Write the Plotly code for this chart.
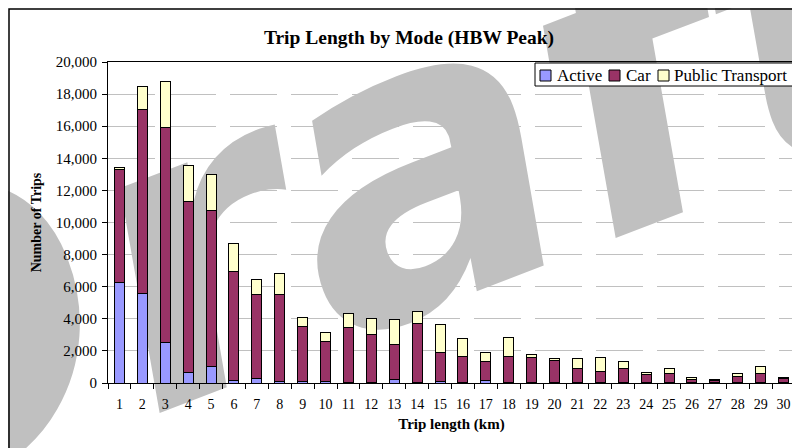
import plotly.graph_objects as go

# ---- data ----
categories = [str(i) for i in range(1, 31)]
active = [6250, 5570, 2550, 650, 1050, 150, 260, 100, 90, 90, 40, 20, 190, 30, 80,
          20, 160, 20, 10, 10, 10, 10, 10, 10, 10, 5, 5, 5, 5, 5]
car = [7070, 11440, 13380, 10660, 9720, 6800, 5280, 5440, 3460, 2520, 3420, 2990, 2180, 3680, 1850,
       1640, 1190, 1620, 1550, 1400, 880, 730, 900, 510, 570, 205, 165, 405, 595, 305]
public_transport = [120, 1490, 2870, 2240, 2230, 1760, 930, 1290, 560, 560, 880, 990, 1570, 770, 1720,
                    1100, 560, 1180, 200, 130, 620, 880, 420, 120, 330, 120, 60, 190, 440, 40]
y_ticks = list(range(0, 20001, 2000))
series_names = ["Active", "Car", "Public Transport"]
colors = ["#9999FF", "#993366", "#FFFFCC"]

# page is offset by the body margin (8px)
OFF = 8
W, H = 800 - OFF, 448 - OFF
PL, PR, PT, PB = 108, 795, 62, 383   # plot area in page pixels
L, R, T, B = PL - OFF, 800 - PR, PT - OFF, 448 - PB
PW, PH = PR - PL, PB - PT


def px(X):
    return (X - PL) / PW


def py(Y):
    return (PB - Y) / PH


FONT = "Liberation Serif"

fig = go.Figure()
for name, vals, col in zip(series_names, [active, car, public_transport], colors):
    fig.add_trace(go.Bar(x=categories, y=vals, name=name, marker_color=col,
                         marker_line=dict(color="black", width=1), showlegend=False))

fig.update_layout(
    width=W, height=H, barmode="stack", bargap=0.56,
    margin=dict(l=L, r=R, t=T, b=B, autoexpand=False),
    paper_bgcolor="white", plot_bgcolor="rgba(0,0,0,0)",
    font=dict(family=FONT, color="black", size=14),
    title=dict(text="<b>Trip Length by Mode (HBW Peak)</b>", x=(409 - OFF) / W, xanchor="center",
               y=1 - (37 - OFF) / H, yanchor="middle", font=dict(size=19.5, family=FONT)),
    xaxis=dict(type="category", showline=True, linecolor="black", linewidth=1, mirror=True,
               ticks="outside", ticklen=5, tickcolor="black", tickson="boundaries", tickangle=0,
               showgrid=False, tickfont=dict(size=14, family=FONT), ticklabelstandoff=8,
               title=dict(text="<b>Trip length (km)</b>", font=dict(size=15, family=FONT), standoff=7)),
    yaxis=dict(range=[0, 20000], tickvals=y_ticks, tickformat=",d", showline=True, linecolor="black",
               linewidth=1, mirror=True, ticks="outside", ticklen=5, tickcolor="black",
               showgrid=True, gridcolor="#C0C0C0", gridwidth=1, griddash="47px,14px", zeroline=False,
               tickfont=dict(size=15, family=FONT), ticklabelstandoff=2,
               title=dict(text="<b>Number of Trips</b>", font=dict(size=14, family=FONT), standoff=10)),
)

# watermark
cx, cy = 326, 166
fig.add_shape(type="rect", xref="paper", yref="paper", x0=px(cx) - 0.001, x1=px(cx) + 0.001,
              y0=py(cy) - 0.001, y1=py(cy) + 0.001, layer="below", line_width=0,
              fillcolor="rgba(0,0,0,0)",
              label=dict(text="<b><i>Draft</i></b>", textangle=-21, textposition="middle center",
                         font=dict(size=410, color="#C0C0C0", family="DejaVu Sans")))

# outer frame
fig.add_shape(type="rect", xref="paper", yref="paper", x0=px(9), x1=px(806), y0=py(456), y1=py(9),
              line=dict(color="black", width=1.5), fillcolor="rgba(0,0,0,0)", layer="above")

# manual legend
fig.add_shape(type="rect", xref="paper", yref="paper", x0=px(535), x1=px(795), y0=py(86), y1=py(63),
              line=dict(color="black", width=1), fillcolor="white", layer="above")
sym_x = [540, 609, 658]
txt_x = [555, 624, 672]
for name, col, sx, tx in zip(series_names, colors, sym_x, txt_x):
    fig.add_shape(type="rect", xref="paper", yref="paper", x0=px(sx), x1=px(sx + 11),
                  y0=py(81), y1=py(70), line=dict(color="black", width=1), fillcolor=col, layer="above")
    fig.add_annotation(text=name, xref="paper", yref="paper", x=px(tx), y=py(75.5), xanchor="left",
                       yanchor="middle", showarrow=False, font=dict(size=17, family=FONT))

fig.write_html("out.html")
